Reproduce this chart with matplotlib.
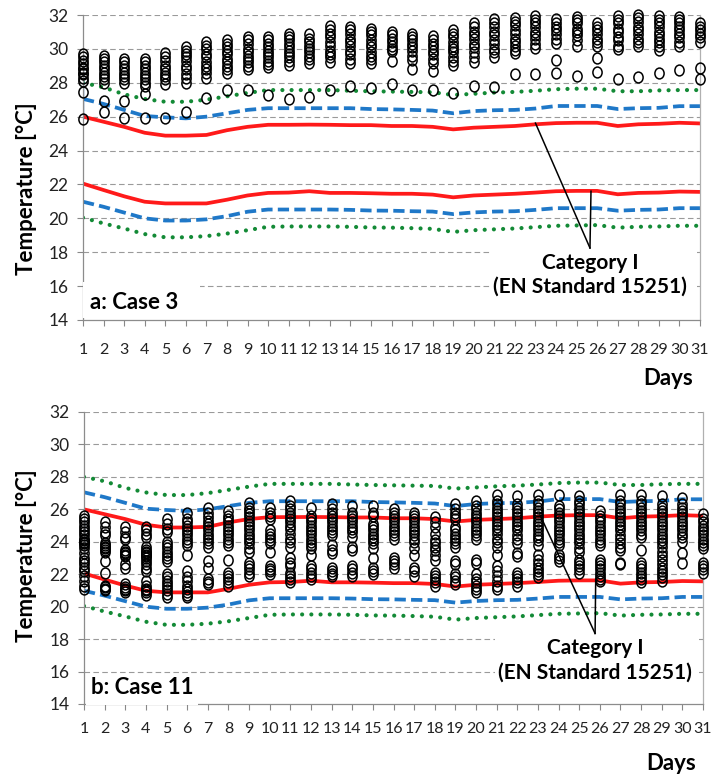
import matplotlib
matplotlib.use("Agg")
import matplotlib.pyplot as plt
from matplotlib.patches import Rectangle
from matplotlib.path import Path

# ---- data -------------------------------------------------------------
days = list(range(1, 32))

# EN 15251 comfort limits (same in both panels)
red_upper = [26.0, 25.7, 25.4, 25.05, 24.88, 24.88, 24.92, 25.2, 25.4, 25.52, 25.52,
             25.53, 25.52, 25.5, 25.5, 25.45, 25.45, 25.4, 25.25, 25.35, 25.4, 25.45,
             25.55, 25.62, 25.64, 25.64, 25.45, 25.55, 25.58, 25.64, 25.6]
red_lower = [22.05, 21.67, 21.3, 20.98, 20.88, 20.88, 20.88, 21.1, 21.35, 21.5, 21.52,
             21.6, 21.5, 21.5, 21.48, 21.45, 21.45, 21.4, 21.24, 21.35, 21.4, 21.45,
             21.52, 21.6, 21.62, 21.62, 21.42, 21.5, 21.52, 21.58, 21.56]
blue_upper = [27.05, 26.75, 26.4, 26.04, 25.96, 25.9, 26.0, 26.2, 26.4, 26.5, 26.5,
              26.5, 26.5, 26.5, 26.45, 26.43, 26.4, 26.36, 26.2, 26.33, 26.38, 26.4,
              26.48, 26.63, 26.63, 26.63, 26.45, 26.5, 26.52, 26.62, 26.62]
blue_lower = [20.98, 20.68, 20.34, 20.0, 19.87, 19.87, 19.94, 20.13, 20.39, 20.52, 20.52,
              20.52, 20.52, 20.5, 20.46, 20.45, 20.42, 20.4, 20.25, 20.35, 20.4, 20.42,
              20.5, 20.6, 20.6, 20.6, 20.45, 20.5, 20.52, 20.6, 20.6]
green_upper = [28.0, 27.73, 27.32, 27.04, 26.88, 26.88, 27.0, 27.2, 27.4, 27.57, 27.57,
               27.57, 27.57, 27.53, 27.5, 27.48, 27.46, 27.44, 27.28, 27.35, 27.42, 27.46,
               27.53, 27.62, 27.65, 27.65, 27.5, 27.5, 27.55, 27.57, 27.57]
green_lower = [20.04, 19.7, 19.4, 19.07, 18.88, 18.88, 18.95, 19.1, 19.3, 19.5, 19.52,
               19.52, 19.52, 19.5, 19.46, 19.45, 19.42, 19.38, 19.2, 19.3, 19.35, 19.4,
               19.48, 19.56, 19.58, 19.6, 19.45, 19.5, 19.52, 19.56, 19.56]

# measured room temperatures per day, case 3
case3 = [
    [29.7, 29.5, 29.3, 29.1, 28.9, 28.8, 28.6, 28.5, 28.3, 28.1, 27.45, 25.85],
    [29.6, 29.4, 29.2, 29.0, 28.8, 28.6, 28.4, 28.2, 28.0, 26.9, 26.3],
    [29.4, 29.2, 29.0, 28.8, 28.6, 28.4, 28.2, 28.0, 26.95, 25.9],
    [29.4, 29.2, 29.0, 28.8, 28.6, 28.4, 28.2, 28.0, 27.8, 27.35, 25.9],
    [29.75, 29.5, 29.3, 29.0, 28.8, 28.6, 28.4, 28.2, 27.9, 25.95],
    [30.1, 29.9, 29.7, 29.5, 29.3, 29.0, 28.8, 28.5, 28.3, 28.0, 26.3],
    [30.4, 30.2, 30.0, 29.7, 29.5, 29.2, 29.0, 28.8, 28.6, 28.3, 27.1],
    [30.5, 30.3, 30.1, 29.9, 29.7, 29.4, 29.2, 29.0, 28.8, 28.6, 27.55],
    [30.7, 30.5, 30.3, 30.0, 29.8, 29.6, 29.4, 29.2, 29.0, 28.8, 27.55],
    [30.7, 30.5, 30.3, 30.1, 29.9, 29.7, 29.5, 29.3, 29.1, 28.95, 27.3],
    [30.9, 30.7, 30.5, 30.3, 30.1, 29.9, 29.7, 29.5, 29.3, 29.05, 27.05],
    [30.85, 30.6, 30.4, 30.2, 30.0, 29.8, 29.6, 29.4, 29.15, 27.15],
    [31.35, 31.1, 30.9, 30.7, 30.4, 30.2, 29.9, 29.7, 29.5, 29.25, 27.6],
    [31.3, 31.1, 30.9, 30.6, 30.4, 30.2, 29.9, 29.7, 29.4, 29.15, 27.8],
    [31.2, 31.0, 30.8, 30.5, 30.3, 30.1, 29.8, 29.6, 29.4, 29.15, 27.7],
    [31.0, 30.8, 30.6, 30.4, 30.2, 30.0, 29.85, 29.3, 27.95],
    [30.9, 30.7, 30.5, 30.3, 30.1, 29.9, 29.6, 29.35, 28.8, 27.55],
    [30.75, 30.5, 30.3, 30.1, 29.9, 29.7, 29.4, 29.15, 28.7, 27.55],
    [31.1, 30.9, 30.7, 30.4, 30.2, 30.0, 29.8, 29.5, 29.3, 29.05, 27.4],
    [31.5, 31.3, 31.0, 30.8, 30.6, 30.3, 30.1, 29.8, 29.5, 29.25, 27.8],
    [31.75, 31.5, 31.3, 31.0, 30.8, 30.5, 30.3, 30.0, 29.8, 29.55, 27.75],
    [31.85, 31.6, 31.4, 31.1, 30.9, 30.6, 30.4, 30.2, 29.95, 29.75, 28.5],
    [31.95, 31.7, 31.5, 31.3, 31.0, 30.8, 30.6, 30.3, 30.05, 28.5],
    [31.75, 31.5, 31.3, 31.1, 30.9, 30.6, 30.35, 29.35, 28.55],
    [31.9, 31.7, 31.5, 31.2, 31.0, 30.8, 30.5, 30.15, 28.4],
    [31.55, 31.3, 31.1, 30.9, 30.6, 30.4, 30.15, 29.45, 28.65],
    [31.95, 31.7, 31.5, 31.2, 31.0, 30.7, 30.5, 30.2, 30.0, 28.2],
    [32.0, 31.8, 31.6, 31.3, 31.1, 30.9, 30.6, 30.4, 30.15, 28.35],
    [31.95, 31.7, 31.5, 31.3, 31.0, 30.8, 30.6, 30.4, 30.15, 29.95, 28.55],
    [31.9, 31.7, 31.5, 31.3, 31.1, 30.9, 30.7, 30.4, 30.2, 28.75],
    [31.5, 31.3, 31.1, 30.9, 30.7, 30.4, 28.85, 28.25],
]

# measured room temperatures per day, case 11
case11 = [
    [25.6, 25.4, 25.2, 25.0, 24.8, 24.6, 24.4, 24.2, 24.1, 24.0, 23.9, 23.8, 23.6,
     23.3, 23.0, 22.8, 22.6, 22.4, 22.2, 21.9, 21.6, 21.3, 21.1],
    [25.2, 24.9, 24.6, 24.4, 23.9, 23.8, 23.7, 23.6, 23.5, 23.4, 22.8, 22.1, 21.3,
     21.2, 21.1, 21.0],
    [24.9, 24.6, 24.3, 24.2, 23.5, 23.4, 23.3, 23.2, 23.1, 22.6, 22.4, 21.4, 21.2,
     21.1, 21.0, 20.9],
    [24.9, 24.7, 24.5, 24.3, 23.7, 23.5, 23.4, 23.3, 23.2, 23.1, 23.0, 22.8, 22.6,
     22.4, 22.2, 21.6, 21.3, 21.1, 21.0, 20.9, 20.7],
    [25.4, 25.1, 24.8, 24.6, 24.0, 23.8, 23.6, 23.4, 23.2, 23.0, 22.8, 22.0, 21.8,
     21.6, 21.4, 21.2, 21.0, 20.8, 20.6],
    [25.8, 25.4, 25.2, 25.0, 24.8, 24.6, 24.4, 24.2, 24.0, 23.8, 23.2, 22.2, 21.8,
     21.6, 21.3, 21.1, 20.9, 20.7, 20.6],
    [26.1, 25.8, 25.5, 25.3, 25.1, 24.9, 24.7, 24.5, 24.3, 24.1, 23.9, 23.7, 22.8,
     22.4, 21.7, 21.5, 21.4],
    [25.9, 25.6, 25.4, 25.2, 25.0, 24.8, 24.6, 24.4, 24.2, 24.0, 23.8, 22.9, 22.1,
     21.9, 21.7, 21.5, 21.3],
    [26.4, 26.1, 25.9, 25.7, 25.5, 25.3, 25.1, 24.9, 24.7, 24.5, 24.3, 24.1, 23.9,
     23.6, 23.4, 22.7, 22.5, 22.3, 22.1, 21.9],
    [26.1, 25.8, 25.6, 25.4, 24.7, 24.5, 24.3, 24.1, 23.9, 23.4, 22.5, 22.3, 22.2,
     22.0],
    [26.5, 26.2, 26.0, 25.8, 25.6, 25.4, 25.2, 25.0, 24.8, 24.5, 24.2, 24.0, 23.7,
     23.0, 22.7, 22.5, 22.1, 21.9, 21.7, 21.5],
    [26.1, 25.6, 25.4, 25.2, 25.0, 24.8, 24.6, 24.4, 24.2, 24.0, 23.8, 23.6, 23.2,
     22.5, 22.3, 22.1, 21.9, 21.7],
    [26.3, 26.0, 25.8, 25.6, 25.4, 25.2, 25.0, 24.8, 24.6, 24.4, 23.8, 23.5, 23.3,
     22.4, 22.2, 22.0, 21.9],
    [26.2, 25.8, 25.6, 25.4, 25.2, 25.0, 24.8, 24.6, 24.3, 23.7, 23.5, 22.5, 22.3,
     22.1, 21.9],
    [26.2, 25.8, 25.6, 25.1, 24.9, 24.7, 24.5, 24.3, 24.1, 23.9, 23.6, 23.0, 22.4,
     22.2, 22.0],
    [26.0, 25.8, 25.6, 25.4, 25.2, 25.0, 24.8, 24.6, 24.4, 24.2, 23.0, 22.8, 22.6,
     22.4],
    [25.8, 25.6, 25.4, 25.2, 25.0, 24.8, 24.6, 24.4, 24.2, 24.0, 23.6, 23.2, 22.4,
     22.2, 21.9],
    [25.5, 25.2, 24.9, 24.5, 24.1, 23.9, 23.7, 23.5, 23.2, 22.9, 22.1, 21.9, 21.7,
     21.5, 21.3],
    [26.3, 26.0, 25.8, 25.6, 25.4, 24.9, 24.7, 24.5, 24.3, 24.1, 23.9, 23.7, 22.8,
     22.6, 22.0, 21.8, 21.6, 21.4],
    [26.5, 26.2, 26.0, 25.8, 25.6, 25.4, 25.2, 25.0, 24.8, 24.6, 24.4, 24.2, 22.9,
     22.7, 22.0, 21.7, 21.5, 21.3, 21.1, 20.9],
    [26.9, 26.5, 26.3, 26.1, 25.9, 25.7, 25.5, 25.3, 25.1, 24.9, 24.7, 24.5, 24.2,
     24.0, 23.7, 23.2, 22.5, 22.2, 21.9, 21.6, 21.3, 21.1],
    [26.8, 26.3, 26.1, 25.9, 25.7, 25.5, 25.3, 25.1, 24.9, 24.7, 24.4, 24.2, 23.9,
     23.3, 23.1, 22.1, 21.9, 21.7, 21.5, 21.3],
    [26.9, 26.5, 26.3, 26.1, 25.9, 25.7, 25.5, 25.3, 25.1, 24.9, 24.7, 24.5, 24.3,
     24.1, 23.8, 23.2, 22.9, 22.6, 22.4, 22.2, 22.0, 21.8],
    [26.9, 26.2, 26.0, 25.8, 25.6, 25.4, 25.2, 25.0, 24.8, 24.6, 24.4, 24.2, 24.0,
     23.8, 23.2, 23.0, 22.8],
    [26.8, 26.5, 26.3, 26.1, 25.9, 25.7, 25.5, 25.3, 25.1, 24.9, 24.7, 24.5, 24.3,
     24.1, 23.9, 23.6, 23.4, 22.9, 22.7, 22.5, 22.3, 22.1],
    [25.9, 25.6, 25.4, 25.2, 25.0, 24.8, 24.6, 24.4, 24.2, 24.0, 23.8, 22.9, 22.7,
     22.5, 22.3, 22.1, 21.9, 21.7, 21.6],
    [26.9, 26.5, 26.3, 26.1, 25.9, 25.7, 25.5, 25.3, 25.1, 24.9, 24.7, 24.4, 24.2,
     23.9, 23.7, 23.5, 22.7, 22.6],
    [26.9, 26.5, 26.3, 26.1, 25.9, 25.7, 25.5, 25.3, 25.1, 24.9, 24.7, 24.5, 24.3,
     23.5, 22.7, 22.5, 22.3, 22.1, 21.9, 21.7, 21.5],
    [26.8, 26.3, 26.1, 25.9, 25.7, 25.5, 25.3, 25.1, 24.9, 24.7, 24.5, 24.3, 24.1,
     23.9, 23.7, 23.4, 23.1, 22.9, 22.6, 22.4, 22.2, 22.0, 21.8, 21.6],
    [26.7, 26.3, 26.1, 25.9, 25.7, 25.5, 25.3, 25.1, 24.9, 24.7, 24.5, 24.3, 24.0,
     23.3, 22.7],
    [25.7, 25.4, 25.2, 25.0, 24.8, 24.6, 24.4, 24.2, 24.0, 23.8, 23.6, 22.7, 22.5,
     22.3, 22.1],
]

yticks = [14, 16, 18, 20, 22, 24, 26, 28, 30, 32]
panel_labels = ["a: Case 3", "b: Case 11"]
note_text = "Category I\n(EN Standard 15251)"
# annotation pointer (day, temp): text anchor, upper-line end, lower-line end
pointers = [
    [(25.65, 18.25), (23.0, 25.62), (25.7, 21.6)],
    [(25.77, 18.35), (23.1, 25.65), (25.8, 21.7)],
]

plt.rcParams['font.family'] = ['Lato', 'DejaVu Sans']

circ = Path.unit_circle()
oval = Path(circ.vertices * [0.85, 1.0], circ.codes)


def draw_panel(ax, temps, label, ptr, tick_pad, label_box, note_box):
    ax.set_xlim(1, 31)
    ax.set_ylim(14, 32)

    for y in yticks[1:]:
        ax.axhline(y, color="#9a9a9a", lw=0.8, ls=(0, (5, 3)), zorder=1)

    ax.plot(days, green_upper, color="#138a36", lw=3.0, ls=(0, (0.01, 2.2)),
            dash_capstyle="round", zorder=2)
    ax.plot(days, green_lower, color="#138a36", lw=3.0, ls=(0, (0.01, 2.2)),
            dash_capstyle="round", zorder=2)
    ax.plot(days, blue_upper, color="#1f78c8", lw=2.7, ls=(0, (3.0, 1.4)), zorder=2)
    ax.plot(days, blue_lower, color="#1f78c8", lw=2.7, ls=(0, (3.0, 1.4)), zorder=2)
    ax.plot(days, red_upper, color="#ff1a1a", lw=2.7, zorder=2)
    ax.plot(days, red_lower, color="#ff1a1a", lw=2.7, zorder=2)

    # thin blue high-low line on the first day
    ax.vlines(days[0], min(temps[0]), max(temps[0]), color="#1f5fa8", lw=1.0, zorder=2)

    xs, ys = [], []
    for d, vals in zip(days, temps):
        xs += [d] * len(vals)
        ys += vals
    ax.plot(xs, ys, ls="none", marker=oval, ms=7.8, mfc="none", mec="black",
            mew=1.1, zorder=3, clip_on=False)

    # white text boxes hide grid lines, like the original
    ax.add_patch(Rectangle((label_box[0], label_box[1]), label_box[2], label_box[3],
                           transform=ax.transAxes, facecolor="white", edgecolor="none",
                           zorder=4, clip_on=False))
    ax.add_patch(Rectangle((note_box[0], note_box[1]), note_box[2], note_box[3],
                           transform=ax.transAxes, facecolor="white", edgecolor="none",
                           zorder=4, clip_on=False))
    ax.text(0.012, 0.058, label, transform=ax.transAxes, fontsize=16,
            fontweight="bold", va="center", ha="left", zorder=5)
    ax.text(ptr[0][0], ptr[0][1] - 0.3, note_text, fontsize=15, fontweight="bold",
            ha="center", va="top", linespacing=1.25, zorder=5)

    (x0, y0), (x1, y1), (x2, y2) = ptr
    ax.plot([x0, x1], [y0, y1], color="black", lw=1.1, zorder=5)
    ax.plot([x0, x2], [y0, y2], color="black", lw=1.1, zorder=5)

    ax.set_xticks(days)
    ax.set_yticks(yticks)
    ax.tick_params(axis="both", direction="out", length=4.3, width=0.8,
                   color="#888888", labelcolor="#222222")
    ax.tick_params(axis="x", labelsize=11.5, pad=tick_pad)
    ax.tick_params(axis="y", labelsize=12.5, pad=6)
    ax.spines["top"].set_visible(False)
    ax.spines["left"].set_color("#8c8c8c")
    ax.spines["bottom"].set_color("#8c8c8c")
    ax.spines["right"].set_color("#b0b0b0")
    for s in ax.spines.values():
        s.set_linewidth(0.9)


def main():
    fig = plt.figure(figsize=(7.14, 7.76), dpi=100)
    ax1 = fig.add_axes([83 / 714, 1 - 320 / 776, 617 / 714, 305 / 776])
    ax2 = fig.add_axes([84 / 714, 1 - 704 / 776, 619 / 714, 292 / 776])

    draw_panel(ax1, case3, panel_labels[0], pointers[0], 12,
               (0.0, 0.005, 0.19, 0.12), (0.66, 0.04, 0.335, 0.21))
    draw_panel(ax2, case11, panel_labels[1], pointers[1], 9,
               (0.003, -0.004, 0.181, 0.096), (0.664, 0.04, 0.33, 0.21))

    fig.text(27 / 714, 1 - 189 / 776, "Temperature [°C]", rotation=90,
             fontsize=16, fontweight="bold", ha="center", va="center")
    fig.text(27 / 714, 1 - 556 / 776, "Temperature [°C]", rotation=90,
             fontsize=16, fontweight="bold", ha="center", va="center")
    fig.text(668 / 714, 1 - 378 / 776, "Days", fontsize=16, fontweight="bold",
             ha="center", va="center")
    fig.text(671 / 714, 1 - 764 / 776, "Days", fontsize=16, fontweight="bold",
             ha="center", va="center")

    fig.savefig("out.png", dpi=100)


if __name__ == '__main__':
    main()
